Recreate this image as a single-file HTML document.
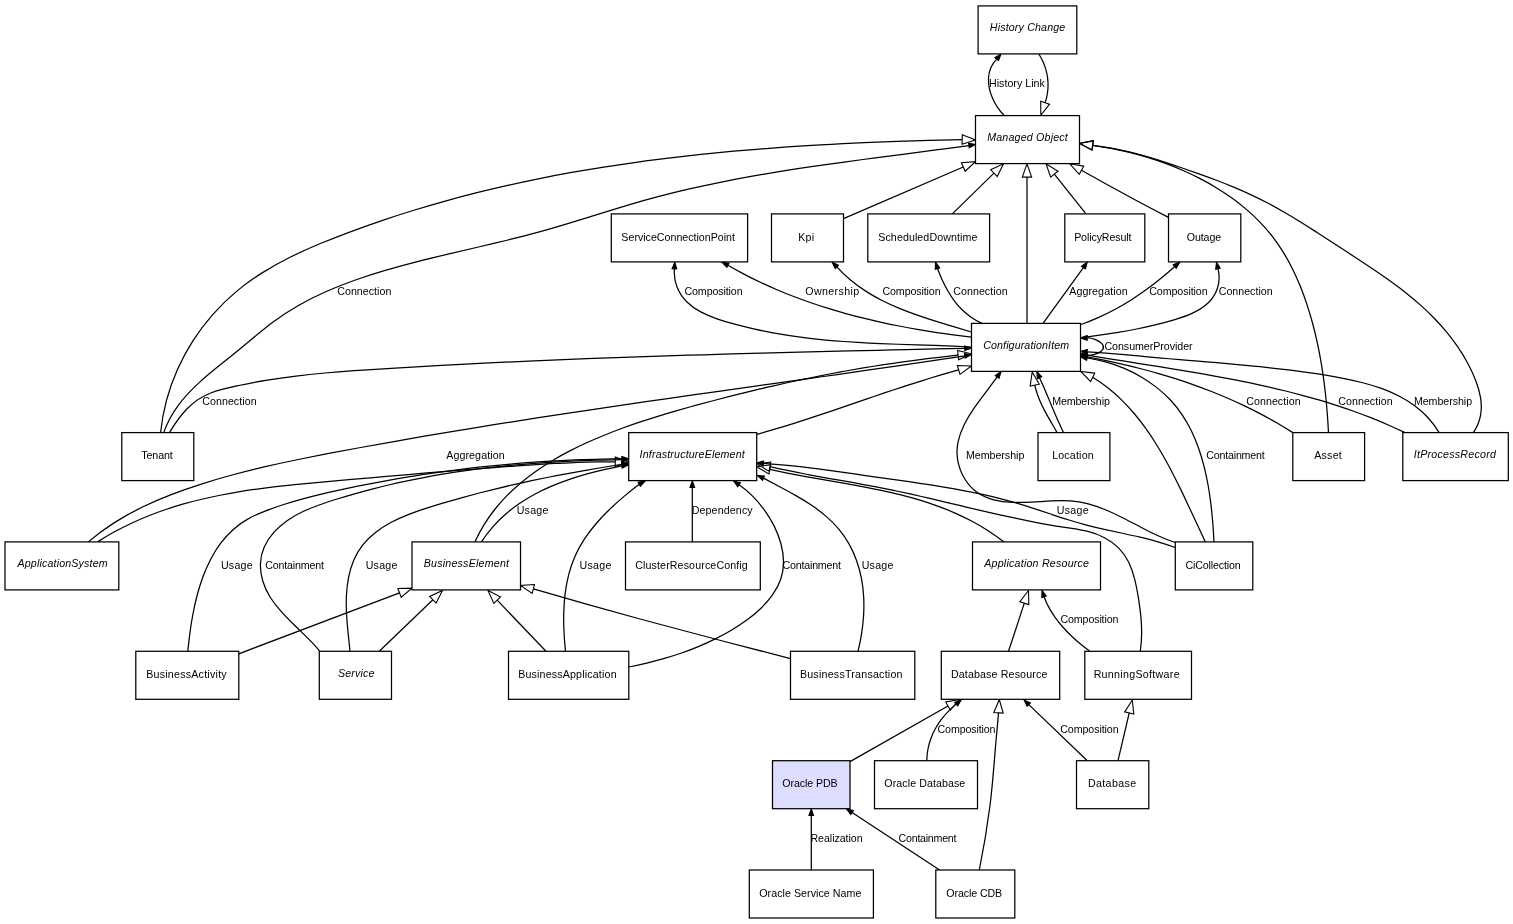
<!DOCTYPE html>
<html lang="en">
<head>
<meta charset="utf-8">
<title>Oracle PDB class model</title>
<style>
html,body{margin:0;padding:0;background:#fff;}
body{width:1513px;height:924px;overflow:hidden;}
svg{display:block;will-change:transform;transform:translateZ(0);}
text{font-family:"Liberation Sans",Arial,Helvetica,sans-serif;font-size:10.67px;fill:#000;text-anchor:start;}
.i{font-style:italic;}
.e{fill:none;stroke:#000;stroke-width:1.25;}
.b{fill:#fff;stroke:#000;stroke-width:1.25;}
.h{fill:#ddddff;stroke:#000;stroke-width:1.25;}
</style>
</head>
<body>
<svg width="1513" height="924" viewBox="0 0 1513 924">
<rect x="0" y="0" width="1513" height="924" fill="#fff"/>
<g id="edges">
<path class="e" d="M1004.20,115.50 C1001.88,113.18 999.68,110.51 997.71,107.60 C995.73,104.68 993.98,101.52 992.55,98.22 C991.11,94.92 989.99,91.49 989.29,88.03 C988.59,84.57 988.30,81.08 988.52,77.68 C988.74,74.27 989.47,70.95 990.80,67.82 C992.14,64.69 994.08,61.76 996.73,59.12"/><polygon points="998.52,60.62 1001.00,54.00 994.94,57.63" fill="#000" stroke="#000" stroke-width="1.1"/>
<path class="e" d="M1038.80,54.00 C1040.36,56.39 1041.73,58.88 1042.90,61.46 C1044.08,64.04 1045.06,66.70 1045.84,69.42 C1046.62,72.14 1047.20,74.90 1047.57,77.70 C1047.94,80.49 1048.10,83.30 1048.05,86.11 C1048.00,88.93 1047.73,91.73 1047.24,94.50 C1046.76,97.27 1046.05,100.01 1045.11,102.69"/><polygon points="1040.69,101.18 1040.80,115.30 1049.53,104.19" fill="none" stroke="#000" stroke-width="1.1"/>
<path class="e" d="M160.60,432.60 C161.66,421.78 163.65,411.02 166.48,400.46 C169.32,389.91 173.00,379.55 177.45,369.53 C181.91,359.51 187.13,349.83 193.03,340.62 C198.94,331.42 205.53,322.70 212.72,314.56 C219.91,306.41 227.70,298.84 235.97,291.89 C244.24,284.94 253.00,278.64 262.14,272.88 C271.27,267.12 280.78,261.88 290.53,257.04 C300.28,252.19 310.27,247.74 320.39,243.53 C330.51,239.33 340.75,235.36 351.00,231.54 C361.26,227.72 371.56,224.06 381.89,220.55 C392.23,217.04 402.61,213.69 413.02,210.48 C423.43,207.28 433.88,204.22 444.36,201.29 C454.85,198.37 465.36,195.59 475.91,192.94 C486.46,190.29 497.04,187.78 507.65,185.39 C518.25,182.99 528.89,180.73 539.55,178.58 C550.21,176.44 560.90,174.41 571.60,172.49 C582.31,170.57 593.04,168.77 603.80,167.07 C614.55,165.37 625.32,163.77 636.11,162.27 C646.90,160.77 657.70,159.37 668.52,158.06 C679.34,156.75 690.18,155.53 701.02,154.39 C711.87,153.25 722.73,152.20 733.60,151.22 C744.46,150.24 755.34,149.34 766.22,148.51 C777.10,147.68 787.99,146.92 798.88,146.22 C809.77,145.52 820.67,144.88 831.57,144.30 C842.46,143.71 853.36,143.19 864.25,142.71 C875.15,142.23 886.04,141.80 896.93,141.41 C907.82,141.02 918.70,140.67 929.57,140.36 C940.45,140.05 951.32,139.77 962.18,139.52"/><polygon points="962.04,144.19 975.50,139.90 962.31,134.85" fill="none" stroke="#000" stroke-width="1.1"/>
<path class="e" d="M163.70,432.60 C167.25,422.36 172.33,413.31 178.46,405.07 C184.58,396.82 191.75,389.38 199.45,382.35 C207.16,375.31 215.41,368.69 223.71,362.09 C232.00,355.49 240.24,348.81 248.31,342.03 C256.38,335.26 264.40,328.51 272.74,322.28 C281.09,316.05 289.82,310.40 298.86,305.27 C307.91,300.13 317.26,295.50 326.82,291.28 C336.39,287.06 346.17,283.25 356.07,279.76 C365.98,276.26 376.01,273.08 386.07,270.12 C396.14,267.15 406.26,264.41 416.40,261.81 C426.54,259.21 436.72,256.75 446.90,254.35 C457.09,251.95 467.29,249.60 477.48,247.24 C487.67,244.88 497.86,242.49 508.02,240.00 C518.18,237.51 528.32,234.92 538.41,232.14 C548.50,229.37 558.56,226.40 568.59,223.36 C578.62,220.31 588.63,217.19 598.65,214.08 C608.67,210.97 618.70,207.88 628.75,204.91 C638.80,201.95 648.88,199.11 659.01,196.46 C669.13,193.81 679.29,191.32 689.49,188.98 C699.69,186.63 709.91,184.43 720.17,182.36 C730.43,180.28 740.71,178.32 751.01,176.47 C761.32,174.62 771.65,172.87 781.99,171.20 C792.34,169.54 802.70,167.95 813.07,166.42 C823.45,164.90 833.83,163.43 844.22,162.01 C854.61,160.59 865.01,159.20 875.41,157.84 C885.81,156.48 896.21,155.13 906.61,153.79 C917.01,152.44 927.40,151.10 937.78,149.73 C948.16,148.36 958.54,146.97 968.90,145.54"/><polygon points="969.23,147.85 975.50,144.60 968.57,143.24" fill="#000" stroke="#000" stroke-width="1.1"/>
<path class="e" d="M169.50,432.60 C174.47,424.19 180.26,415.80 187.09,408.77 C193.92,401.74 201.88,396.32 210.83,392.98 C219.78,389.65 229.34,387.59 238.78,385.51 C248.22,383.44 257.72,381.64 267.26,380.08 C276.80,378.51 286.39,377.18 296.01,376.02 C305.63,374.85 315.28,373.87 324.95,373.00 C334.62,372.13 344.32,371.39 354.02,370.71 C363.72,370.02 373.43,369.41 383.13,368.80 C392.84,368.20 402.54,367.61 412.25,367.05 C421.95,366.48 431.65,365.94 441.35,365.41 C451.05,364.88 460.75,364.37 470.45,363.88 C480.14,363.39 489.84,362.91 499.53,362.45 C509.23,361.99 518.92,361.55 528.61,361.12 C538.31,360.69 548.00,360.28 557.69,359.88 C567.38,359.48 577.07,359.09 586.76,358.72 C596.45,358.34 606.14,357.98 615.83,357.63 C625.52,357.28 635.21,356.95 644.89,356.62 C654.58,356.29 664.27,355.98 673.96,355.67 C683.65,355.36 693.33,355.07 703.02,354.78 C712.71,354.49 722.40,354.21 732.09,353.94 C741.77,353.66 751.46,353.40 761.15,353.14 C770.84,352.88 780.53,352.63 790.22,352.38 C799.91,352.13 809.60,351.89 819.29,351.66 C828.98,351.42 838.67,351.18 848.36,350.95 C858.06,350.72 867.75,350.50 877.45,350.27 C887.14,350.05 896.84,349.83 906.53,349.60 C916.23,349.38 925.93,349.16 935.63,348.94 C945.33,348.72 955.03,348.50 964.73,348.28"/><polygon points="964.79,350.61 971.40,348.10 964.67,345.95" fill="#000" stroke="#000" stroke-width="1.1"/>
<path class="e" d="M1328.50,432.60 C1328.18,426.46 1327.80,420.28 1327.32,414.09 C1326.85,407.90 1326.29,401.69 1325.63,395.48 C1324.97,389.26 1324.21,383.04 1323.34,376.82 C1322.47,370.61 1321.48,364.39 1320.36,358.20 C1319.25,352.00 1318.00,345.82 1316.62,339.66 C1315.23,333.50 1313.71,327.37 1312.02,321.28 C1310.34,315.19 1308.50,309.13 1306.49,303.13 C1304.48,297.13 1302.29,291.19 1299.91,285.36 C1297.53,279.52 1294.95,273.79 1292.15,268.19 C1289.34,262.60 1286.32,257.14 1283.06,251.87 C1279.79,246.59 1276.28,241.49 1272.50,236.61 C1268.72,231.73 1264.69,227.06 1260.41,222.61 C1256.14,218.15 1251.64,213.90 1246.94,209.85 C1242.25,205.80 1237.35,201.95 1232.28,198.29 C1227.22,194.64 1221.99,191.18 1216.62,187.91 C1211.26,184.64 1205.76,181.56 1200.16,178.66 C1194.56,175.76 1188.85,173.05 1183.08,170.51 C1177.31,167.97 1171.46,165.60 1165.56,163.41 C1159.65,161.22 1153.69,159.21 1147.68,157.36 C1141.67,155.51 1135.61,153.84 1129.52,152.33 C1123.43,150.82 1117.30,149.48 1111.16,148.30 C1105.01,147.12 1098.85,146.11 1092.67,145.26"/><polygon points="1093.39,140.64 1079.50,143.20 1091.95,149.87" fill="none" stroke="#000" stroke-width="1.1"/>
<path class="e" d="M1473.30,432.60 C1477.17,427.04 1479.46,421.28 1480.54,415.41 C1481.63,409.55 1481.50,403.59 1480.54,397.64 C1479.58,391.70 1477.78,385.77 1475.51,379.97 C1473.25,374.18 1470.56,368.53 1467.62,363.07 C1464.68,357.61 1461.45,352.33 1457.97,347.22 C1454.50,342.10 1450.78,337.16 1446.85,332.39 C1442.92,327.61 1438.78,323.00 1434.48,318.54 C1430.18,314.09 1425.71,309.80 1421.11,305.65 C1416.52,301.51 1411.79,297.52 1406.98,293.68 C1402.17,289.84 1397.27,286.14 1392.31,282.53 C1387.34,278.93 1382.31,275.42 1377.23,271.97 C1372.16,268.52 1367.04,265.13 1361.90,261.74 C1356.76,258.35 1351.60,254.97 1346.43,251.59 C1341.26,248.21 1336.08,244.83 1330.91,241.46 C1325.73,238.08 1320.55,234.71 1315.35,231.37 C1310.16,228.03 1304.94,224.73 1299.69,221.49 C1294.44,218.26 1289.16,215.08 1283.83,212.00 C1278.50,208.92 1273.12,205.93 1267.68,203.06 C1262.24,200.20 1256.73,197.46 1251.15,194.85 C1245.58,192.24 1239.94,189.76 1234.25,187.38 C1228.56,184.99 1222.83,182.71 1217.06,180.50 C1211.29,178.30 1205.48,176.17 1199.66,174.09 C1193.84,172.01 1188.00,169.99 1182.16,167.99 C1176.32,165.99 1170.47,164.02 1164.60,162.13 C1158.74,160.24 1152.85,158.43 1146.94,156.72 C1141.03,155.01 1135.09,153.42 1129.11,151.98 C1123.13,150.54 1117.12,149.25 1111.05,148.15 C1104.97,147.05 1098.85,146.14 1092.67,145.46"/><polygon points="1093.39,140.84 1079.50,143.40 1091.95,150.07" fill="none" stroke="#000" stroke-width="1.1"/>
<path class="e" d="M843.50,218.60 L963.26,166.98"/><polygon points="965.11,171.27 975.50,161.70 961.41,162.69" fill="none" stroke="#000" stroke-width="1.1"/>
<path class="e" d="M952.30,213.90 L993.97,173.12"/><polygon points="997.24,176.46 1003.50,163.80 990.71,169.78" fill="none" stroke="#000" stroke-width="1.1"/>
<path class="e" d="M1027.00,323.40 L1027.00,177.13"/><polygon points="1031.67,177.13 1027.00,163.80 1022.33,177.13" fill="none" stroke="#000" stroke-width="1.1"/>
<path class="e" d="M1086.00,213.90 L1054.32,174.22"/><polygon points="1057.97,171.30 1046.00,163.80 1050.67,177.13" fill="none" stroke="#000" stroke-width="1.1"/>
<path class="e" d="M1168.50,217.40 C1156.92,211.52 1145.42,205.49 1134.00,199.30 C1116.41,189.77 1098.89,180.08 1081.47,170.25"/><polygon points="1083.73,166.16 1069.80,163.80 1079.21,174.34" fill="none" stroke="#000" stroke-width="1.1"/>
<path class="e" d="M971.40,347.00 C965.27,346.68 959.15,346.41 953.03,346.16 C946.92,345.91 940.82,345.69 934.73,345.48 C928.64,345.26 922.56,345.07 916.49,344.87 C910.42,344.67 904.35,344.47 898.30,344.25 C892.24,344.03 886.19,343.80 880.15,343.54 C874.10,343.28 868.07,342.98 862.03,342.65 C856.00,342.31 849.97,341.94 843.95,341.50 C837.93,341.06 831.90,340.57 825.89,340.01 C819.87,339.44 813.85,338.81 807.84,338.08 C801.82,337.36 795.81,336.56 789.79,335.65 C783.78,334.74 777.77,333.74 771.75,332.62 C765.74,331.50 759.72,330.26 753.70,328.90 C747.68,327.54 741.66,326.05 735.64,324.43 C729.61,322.80 723.54,321.06 717.63,319.04 C711.72,317.03 706.00,314.72 700.75,311.91 C695.49,309.10 690.70,305.79 686.67,301.75 C682.63,297.72 679.32,292.90 677.12,287.33 C674.92,281.76 673.85,275.50 674.41,268.86"/><polygon points="676.74,268.99 674.80,262.20 672.09,268.72" fill="#000" stroke="#000" stroke-width="1.1"/>
<path class="e" d="M971.40,337.20 C965.38,336.47 959.36,335.70 953.34,334.88 C947.32,334.06 941.30,333.19 935.28,332.26 C929.26,331.33 923.24,330.35 917.23,329.31 C911.23,328.27 905.23,327.17 899.24,326.00 C893.25,324.83 887.28,323.59 881.32,322.29 C875.36,320.98 869.42,319.60 863.50,318.14 C857.58,316.69 851.68,315.15 845.81,313.53 C839.94,311.91 834.10,310.21 828.28,308.42 C822.47,306.62 816.68,304.74 810.94,302.77 C805.19,300.79 799.48,298.72 793.80,296.54 C788.13,294.37 782.50,292.10 776.91,289.72 C771.32,287.34 765.77,284.85 760.28,282.25 C754.78,279.65 749.33,276.94 743.94,274.11 C738.55,271.28 733.21,268.33 727.93,265.26"/><polygon points="729.00,263.19 722.00,262.20 726.86,267.33" fill="#000" stroke="#000" stroke-width="1.1"/>
<path class="e" d="M971.40,332.00 C965.56,330.22 959.61,328.47 953.60,326.68 C947.59,324.90 941.52,323.08 935.45,321.18 C929.37,319.29 923.30,317.31 917.26,315.19 C911.23,313.08 905.25,310.83 899.37,308.39 C893.48,305.96 887.70,303.33 882.06,300.47 C876.43,297.61 870.95,294.51 865.67,291.12 C860.39,287.73 855.32,284.04 850.50,280.02 C845.69,275.99 841.13,271.62 836.88,266.85"/><polygon points="838.50,265.19 832.10,262.20 835.25,268.52" fill="#000" stroke="#000" stroke-width="1.1"/>
<path class="e" d="M982.00,323.40 C978.06,321.67 974.44,319.61 971.09,317.29 C967.75,314.96 964.69,312.37 961.87,309.56 C959.05,306.75 956.47,303.72 954.10,300.52 C951.74,297.33 949.58,293.96 947.59,290.48 C945.61,286.99 943.80,283.39 942.12,279.72 C940.45,276.06 938.91,272.32 937.48,268.57"/><polygon points="939.70,267.88 935.50,262.20 935.25,269.26" fill="#000" stroke="#000" stroke-width="1.1"/>
<path class="e" d="M1043.00,323.40 L1083.39,267.60"/><polygon points="1085.28,268.97 1087.30,262.20 1081.50,266.24" fill="#000" stroke="#000" stroke-width="1.1"/>
<path class="e" d="M1081.00,324.50 C1086.82,322.42 1092.54,320.12 1098.16,317.61 C1103.79,315.10 1109.31,312.37 1114.74,309.46 C1120.17,306.55 1125.49,303.45 1130.71,300.17 C1135.93,296.89 1141.05,293.45 1146.05,289.84 C1151.06,286.24 1155.95,282.49 1160.73,278.60 C1165.51,274.71 1170.18,270.68 1174.73,266.54"/><polygon points="1176.25,268.31 1179.80,262.20 1173.22,264.77" fill="#000" stroke="#000" stroke-width="1.1"/>
<path class="e" d="M1080.50,337.90 C1086.96,336.98 1093.31,336.09 1099.59,335.18 C1105.87,334.26 1112.07,333.32 1118.25,332.31 C1124.42,331.30 1130.57,330.21 1136.71,329.01 C1142.86,327.80 1149.02,326.47 1155.22,324.97 C1161.42,323.47 1167.67,321.80 1173.99,319.91 C1180.31,318.01 1186.65,315.87 1192.49,313.15 C1198.34,310.44 1203.69,307.17 1208.04,303.01 C1212.39,298.86 1215.74,293.70 1217.58,287.70 C1219.41,281.70 1219.73,275.04 1218.00,268.70"/><polygon points="1220.27,268.18 1216.50,262.20 1215.73,269.22" fill="#000" stroke="#000" stroke-width="1.1"/>
<path class="e" d="M1080.50,355.60 C1081.84,355.93 1084.48,355.95 1087.51,355.62 C1090.53,355.30 1093.94,354.62 1096.82,353.56 C1099.70,352.49 1102.02,351.00 1102.98,349.19 C1103.95,347.38 1103.46,345.40 1101.87,343.66 C1100.29,341.91 1097.73,340.37 1095.01,339.32 C1092.29,338.26 1089.41,337.69 1087.17,337.90"/><polygon points="1087.17,335.57 1080.50,337.90 1087.17,340.23" fill="#000" stroke="#000" stroke-width="1.1"/>
<path class="e" d="M1439.20,432.60 C1435.86,427.03 1432.03,422.01 1427.81,417.48 C1423.58,412.94 1418.95,408.90 1414.02,405.30 C1409.09,401.69 1403.85,398.53 1398.40,395.74 C1392.95,392.96 1387.28,390.56 1381.48,388.46 C1375.68,386.37 1369.73,384.57 1363.71,382.99 C1357.70,381.41 1351.61,380.04 1345.52,378.81 C1339.42,377.57 1333.30,376.47 1327.18,375.46 C1321.05,374.45 1314.92,373.51 1308.79,372.64 C1302.66,371.76 1296.52,370.94 1290.39,370.18 C1284.25,369.41 1278.11,368.69 1271.97,368.01 C1265.82,367.34 1259.68,366.70 1253.53,366.09 C1247.38,365.49 1241.23,364.91 1235.08,364.35 C1228.93,363.80 1222.77,363.26 1216.62,362.74 C1210.46,362.21 1204.31,361.70 1198.15,361.19 C1191.99,360.67 1185.83,360.16 1179.67,359.64 C1173.51,359.12 1167.34,358.59 1161.18,358.04 C1155.02,357.50 1148.85,356.92 1142.69,356.34 C1136.52,355.76 1130.35,355.17 1124.19,354.60 C1118.02,354.04 1111.85,353.50 1105.68,353.01 C1099.51,352.53 1093.33,352.10 1087.16,351.76"/><polygon points="1087.28,349.43 1080.50,351.40 1087.04,354.08" fill="#000" stroke="#000" stroke-width="1.1"/>
<path class="e" d="M1405.00,432.60 C1399.46,429.94 1393.89,427.39 1388.29,424.95 C1382.69,422.51 1377.06,420.17 1371.39,417.93 C1365.73,415.69 1360.04,413.55 1354.32,411.50 C1348.61,409.45 1342.86,407.49 1337.09,405.61 C1331.32,403.73 1325.53,401.94 1319.72,400.22 C1313.90,398.50 1308.07,396.85 1302.21,395.28 C1296.36,393.70 1290.48,392.19 1284.59,390.75 C1278.70,389.30 1272.79,387.91 1266.86,386.58 C1260.94,385.25 1255.00,383.97 1249.05,382.73 C1243.10,381.50 1237.14,380.31 1231.16,379.16 C1225.19,378.00 1219.21,376.89 1213.21,375.81 C1207.22,374.73 1201.22,373.68 1195.22,372.65 C1189.22,371.62 1183.21,370.62 1177.19,369.63 C1171.18,368.64 1165.17,367.66 1159.15,366.70 C1153.14,365.74 1147.12,364.78 1141.10,363.82 C1135.09,362.87 1129.08,361.92 1123.07,360.95 C1117.06,359.99 1111.06,359.03 1105.06,358.05 C1099.06,357.06 1093.07,356.07 1087.09,355.05"/><polygon points="1087.45,352.75 1080.50,354.00 1086.72,357.35" fill="#000" stroke="#000" stroke-width="1.1"/>
<path class="e" d="M1292.80,432.60 C1287.61,429.29 1282.35,426.10 1277.04,423.02 C1271.73,419.94 1266.36,416.97 1260.94,414.12 C1255.52,411.26 1250.04,408.51 1244.52,405.87 C1239.00,403.23 1233.43,400.69 1227.81,398.26 C1222.20,395.82 1216.54,393.49 1210.85,391.25 C1205.15,389.01 1199.41,386.87 1193.64,384.81 C1187.87,382.76 1182.07,380.81 1176.23,378.93 C1170.40,377.06 1164.53,375.28 1158.64,373.58 C1152.75,371.88 1146.83,370.27 1140.90,368.73 C1134.96,367.19 1129.00,365.73 1123.03,364.35 C1117.05,362.97 1111.06,361.66 1105.06,360.42 C1099.06,359.19 1093.04,358.02 1087.02,356.92"/><polygon points="1087.51,354.64 1080.50,355.50 1086.52,359.19" fill="#000" stroke="#000" stroke-width="1.1"/>
<path class="e" d="M1214.00,541.90 C1213.69,535.90 1213.31,529.76 1212.82,523.52 C1212.32,517.29 1211.72,510.96 1210.96,504.60 C1210.19,498.25 1209.27,491.86 1208.15,485.51 C1207.02,479.15 1205.70,472.83 1204.12,466.60 C1202.55,460.36 1200.72,454.22 1198.61,448.23 C1196.49,442.24 1194.08,436.40 1191.33,430.77 C1188.58,425.14 1185.49,419.73 1182.02,414.59 C1178.55,409.44 1174.68,404.58 1170.42,400.03 C1166.15,395.49 1161.50,391.26 1156.55,387.37 C1151.59,383.48 1146.32,379.92 1140.83,376.72 C1135.33,373.52 1129.60,370.67 1123.71,368.20 C1117.82,365.73 1111.77,363.63 1105.64,361.92 C1099.50,360.22 1093.29,358.90 1087.06,358.00"/><polygon points="1087.48,355.71 1080.50,356.80 1086.64,360.29" fill="#000" stroke="#000" stroke-width="1.1"/>
<path class="e" d="M1205.40,541.90 C1202.82,536.54 1200.27,531.10 1197.70,525.59 C1195.14,520.09 1192.57,514.52 1189.97,508.94 C1187.37,503.35 1184.73,497.74 1182.04,492.14 C1179.35,486.55 1176.59,480.96 1173.76,475.41 C1170.92,469.87 1168.00,464.37 1164.96,458.96 C1161.93,453.54 1158.78,448.20 1155.50,442.97 C1152.22,437.74 1148.80,432.63 1145.21,427.66 C1141.63,422.70 1137.88,417.88 1133.94,413.24 C1130.00,408.60 1125.87,404.15 1121.52,399.90 C1117.18,395.66 1112.62,391.64 1107.81,387.86 C1103.01,384.09 1097.96,380.56 1092.64,377.32"/><polygon points="1094.72,373.14 1080.70,371.40 1090.57,381.50" fill="none" stroke="#000" stroke-width="1.1"/>
<path class="e" d="M1175.30,542.50 C1169.54,540.69 1163.80,538.36 1158.07,535.75 C1152.34,533.13 1146.62,530.22 1140.87,527.22 C1135.13,524.23 1129.38,521.15 1123.58,518.20 C1117.79,515.26 1111.97,512.45 1106.08,509.98 C1100.20,507.51 1094.26,505.39 1088.25,503.83 C1082.24,502.26 1076.14,501.33 1069.97,500.95 C1063.80,500.57 1057.55,500.69 1051.23,500.98 C1044.92,501.28 1038.55,501.75 1032.13,502.08 C1025.71,502.42 1019.24,502.62 1012.76,502.36 C1006.27,502.10 999.83,501.38 993.76,499.83 C987.69,498.28 982.00,495.90 977.02,492.33 C972.05,488.75 967.80,483.93 964.52,478.45 C961.23,472.97 958.90,466.84 957.77,460.63 C956.65,454.43 956.80,448.24 958.01,442.22 C959.22,436.20 961.44,430.30 964.30,424.55 C967.16,418.79 970.65,413.18 974.41,407.72 C978.17,402.26 982.19,396.96 986.10,391.82 C990.01,386.69 993.81,381.73 997.12,376.95"/><polygon points="998.99,378.34 1001.10,371.60 995.25,375.56" fill="#000" stroke="#000" stroke-width="1.1"/>
<path class="e" d="M1057.10,432.60 C1055.68,430.04 1054.21,427.50 1052.73,424.96 C1051.25,422.43 1049.76,419.89 1048.31,417.35 C1046.85,414.80 1045.43,412.23 1044.08,409.64 C1042.74,407.04 1041.46,404.41 1040.30,401.74 C1039.14,399.06 1038.08,396.34 1037.15,393.57 C1036.21,390.79 1035.41,387.97 1034.76,385.08"/><polygon points="1039.34,384.19 1032.20,372.00 1030.17,385.98" fill="none" stroke="#000" stroke-width="1.1"/>
<path class="e" d="M1063.50,432.60 C1062.06,429.60 1060.66,426.57 1059.30,423.54 C1057.93,420.50 1056.60,417.45 1055.29,414.39 C1053.98,411.33 1052.68,408.27 1051.39,405.20 C1050.10,402.13 1048.82,399.06 1047.52,395.99 C1046.23,392.92 1044.92,389.86 1043.59,386.81 C1042.26,383.76 1040.91,380.72 1039.52,377.69"/><polygon points="1041.65,376.74 1036.80,371.60 1037.39,378.64" fill="#000" stroke="#000" stroke-width="1.1"/>
<path class="e" d="M757.10,434.30 C763.28,432.58 769.45,430.80 775.59,428.96 C781.74,427.13 787.86,425.24 793.98,423.30 C800.09,421.37 806.19,419.40 812.28,417.39 C818.37,415.39 824.45,413.35 830.53,411.30 C836.61,409.25 842.68,407.18 848.74,405.11 C854.81,403.03 860.88,400.95 866.95,398.88 C873.02,396.81 879.09,394.75 885.17,392.70 C891.25,390.66 897.33,388.64 903.43,386.65 C909.52,384.65 915.63,382.69 921.74,380.78 C927.86,378.86 934.00,376.99 940.15,375.18 C946.30,373.36 952.47,371.61 958.66,369.92"/><polygon points="960.03,374.38 971.40,366.00 957.29,365.46" fill="none" stroke="#000" stroke-width="1.1"/>
<path class="e" d="M88.30,541.90 C96.63,534.77 105.36,528.39 114.40,522.63 C123.45,516.86 132.81,511.71 142.41,507.05 C152.01,502.38 161.84,498.20 171.82,494.37 C181.80,490.54 191.92,487.06 202.12,483.81 C212.32,480.56 222.61,477.56 232.97,474.76 C243.33,471.96 253.76,469.37 264.23,466.92 C274.71,464.48 285.24,462.19 295.79,460.00 C306.35,457.81 316.93,455.73 327.52,453.71 C338.12,451.68 348.72,449.70 359.32,447.76 C369.92,445.81 380.52,443.90 391.12,442.02 C401.73,440.14 412.33,438.29 422.94,436.48 C433.55,434.66 444.15,432.88 454.76,431.12 C465.37,429.36 475.98,427.62 486.60,425.91 C497.21,424.21 507.82,422.52 518.44,420.86 C529.05,419.19 539.67,417.55 550.29,415.93 C560.90,414.30 571.52,412.70 582.14,411.11 C592.76,409.52 603.38,407.95 614.00,406.39 C624.63,404.83 635.25,403.28 645.87,401.74 C656.50,400.20 667.12,398.67 677.75,397.15 C688.38,395.63 699.00,394.12 709.63,392.61 C720.26,391.10 730.89,389.60 741.52,388.10 C752.15,386.60 762.78,385.10 773.41,383.59 C784.04,382.09 794.68,380.59 805.31,379.08 C815.94,377.58 826.58,376.07 837.21,374.55 C847.84,373.03 858.48,371.51 869.12,369.97 C879.75,368.44 890.39,366.90 901.02,365.34 C911.66,363.79 922.30,362.22 932.93,360.64 C943.57,359.06 954.21,357.46 964.85,355.84"/><polygon points="965.28,358.13 971.40,354.60 964.41,353.55" fill="#000" stroke="#000" stroke-width="1.1"/>
<path class="e" d="M474.90,541.90 C477.64,535.86 480.72,530.11 484.10,524.63 C487.48,519.15 491.17,513.95 495.11,509.00 C499.06,504.04 503.27,499.34 507.70,494.88 C512.14,490.41 516.79,486.18 521.64,482.16 C526.48,478.13 531.51,474.33 536.68,470.71 C541.86,467.09 547.19,463.67 552.64,460.42 C558.09,457.17 563.66,454.09 569.33,451.16 C575.00,448.23 580.76,445.45 586.59,442.80 C592.42,440.15 598.32,437.63 604.25,435.21 C610.19,432.80 616.16,430.49 622.17,428.28 C628.18,426.07 634.22,423.95 640.29,421.92 C646.36,419.88 652.46,417.93 658.57,416.04 C664.69,414.15 670.83,412.33 676.98,410.56 C683.13,408.79 689.29,407.08 695.46,405.40 C701.64,403.73 707.82,402.09 713.99,400.48 C720.17,398.87 726.35,397.28 732.53,395.72 C738.72,394.16 744.90,392.63 751.09,391.12 C757.27,389.62 763.47,388.15 769.66,386.71 C775.86,385.27 782.07,383.87 788.28,382.50 C794.50,381.13 800.72,379.80 806.95,378.51 C813.19,377.22 819.43,375.97 825.68,374.76 C831.94,373.55 838.20,372.37 844.47,371.24 C850.74,370.11 857.02,369.01 863.31,367.96 C869.60,366.91 875.89,365.90 882.19,364.92 C888.50,363.95 894.81,363.02 901.13,362.13 C907.44,361.23 913.77,360.38 920.10,359.57 C926.43,358.76 932.76,357.99 939.10,357.26 C945.45,356.53 951.79,355.84 958.14,355.20"/><polygon points="958.63,359.84 971.40,353.80 957.65,350.55" fill="none" stroke="#000" stroke-width="1.1"/>
<path class="e" d="M1175.30,547.50 C1169.56,545.36 1163.75,543.49 1157.89,541.81 C1152.02,540.12 1146.11,538.62 1140.16,537.22 C1134.22,535.82 1128.25,534.52 1122.28,533.24 C1116.30,531.96 1110.32,530.70 1104.36,529.36 C1098.40,528.03 1092.46,526.64 1086.56,525.09 C1080.66,523.54 1074.81,521.83 1068.99,520.01 C1063.17,518.20 1057.38,516.29 1051.59,514.35 C1045.80,512.42 1040.02,510.46 1034.23,508.56 C1028.43,506.66 1022.62,504.82 1016.77,503.11 C1010.92,501.40 1005.04,499.81 999.13,498.33 C993.22,496.84 987.28,495.47 981.32,494.18 C975.36,492.88 969.37,491.68 963.37,490.55 C957.36,489.41 951.34,488.35 945.30,487.34 C939.27,486.33 933.22,485.37 927.17,484.44 C921.11,483.51 915.05,482.62 908.98,481.74 C902.92,480.87 896.85,480.01 890.78,479.14 C884.72,478.28 878.66,477.41 872.60,476.53 C866.55,475.66 860.50,474.77 854.45,473.89 C848.41,473.02 842.36,472.15 836.31,471.31 C830.26,470.46 824.21,469.64 818.16,468.87 C812.11,468.09 806.05,467.35 799.98,466.66 C793.91,465.98 787.84,465.35 781.75,464.79 C775.67,464.23 769.57,463.74 763.46,463.34"/><polygon points="763.61,461.01 756.80,462.90 763.30,465.66" fill="#000" stroke="#000" stroke-width="1.1"/>
<path class="e" d="M1004.00,541.90 C998.80,537.87 993.50,534.13 988.09,530.66 C982.68,527.19 977.17,523.99 971.58,521.03 C965.98,518.06 960.30,515.34 954.53,512.82 C948.77,510.30 942.93,507.99 937.03,505.86 C931.12,503.72 925.15,501.76 919.12,499.95 C913.09,498.15 907.01,496.48 900.89,494.94 C894.77,493.39 888.60,491.96 882.40,490.62 C876.20,489.28 869.97,488.03 863.72,486.83 C857.47,485.63 851.20,484.50 844.92,483.38 C838.64,482.27 832.35,481.18 826.07,480.09 C819.78,479.01 813.50,477.91 807.23,476.79 C800.96,475.66 794.70,474.50 788.47,473.28 C782.25,472.06 776.04,470.77 769.87,469.40"/><polygon points="770.78,464.81 756.80,466.80 768.97,473.98" fill="none" stroke="#000" stroke-width="1.1"/>
<path class="e" d="M1140.30,651.30 C1141.20,645.03 1141.62,639.03 1141.66,633.14 C1141.70,627.25 1141.36,621.47 1140.78,615.64 C1140.19,609.81 1139.36,603.92 1138.39,597.83 C1137.42,591.74 1136.28,585.49 1134.73,579.42 C1133.18,573.35 1131.22,567.45 1128.59,562.08 C1125.96,556.72 1122.61,551.91 1118.53,547.85 C1114.44,543.78 1109.69,540.40 1104.51,537.68 C1099.33,534.96 1093.72,532.93 1087.92,531.47 C1082.12,530.01 1076.11,529.05 1070.08,528.14 C1064.06,527.23 1058.04,526.30 1052.06,525.27 C1046.08,524.25 1040.12,523.16 1034.19,522.02 C1028.26,520.87 1022.34,519.68 1016.45,518.44 C1010.56,517.20 1004.68,515.92 998.82,514.61 C992.95,513.30 987.10,511.95 981.26,510.60 C975.42,509.24 969.59,507.86 963.76,506.48 C957.93,505.10 952.11,503.71 946.28,502.33 C940.46,500.95 934.64,499.58 928.81,498.22 C922.98,496.87 917.15,495.53 911.31,494.22 C905.47,492.92 899.62,491.64 893.76,490.41 C887.89,489.18 882.02,487.99 876.12,486.85 C870.23,485.72 864.32,484.63 858.41,483.56 C852.49,482.50 846.57,481.46 840.64,480.42 C834.72,479.38 828.79,478.34 822.87,477.28 C816.95,476.21 811.03,475.13 805.12,474.00 C799.22,472.88 793.33,471.71 787.45,470.47 C781.58,469.23 775.72,467.92 769.89,466.52"/><polygon points="770.77,461.94 756.80,464.00 769.01,471.11" fill="none" stroke="#000" stroke-width="1.1"/>
<path class="e" d="M858.00,651.30 C859.43,645.59 860.65,639.69 861.60,633.66 C862.56,627.63 863.25,621.48 863.61,615.28 C863.97,609.09 864.00,602.85 863.66,596.64 C863.31,590.43 862.58,584.26 861.40,578.20 C860.23,572.14 858.61,566.20 856.54,560.45 C854.47,554.70 851.95,549.15 848.99,543.90 C846.03,538.64 842.63,533.68 838.80,529.10 C834.97,524.51 830.72,520.29 826.16,516.36 C821.60,512.43 816.72,508.78 811.65,505.35 C806.57,501.91 801.29,498.69 795.92,495.61 C790.56,492.52 785.10,489.57 779.65,486.68 C774.21,483.79 768.79,480.96 763.49,478.12"/><polygon points="764.44,475.99 757.40,475.40 762.54,480.25" fill="#000" stroke="#000" stroke-width="1.1"/>
<path class="e" d="M628.80,667.00 C634.89,665.79 640.89,664.49 646.82,663.07 C652.75,661.65 658.61,660.12 664.40,658.46 C670.18,656.79 675.90,654.99 681.55,653.02 C687.21,651.06 692.80,648.94 698.33,646.63 C703.87,644.33 709.35,641.84 714.77,639.15 C720.20,636.46 725.58,633.57 730.91,630.44 C736.24,627.32 741.49,623.96 746.51,620.32 C751.53,616.67 756.32,612.75 760.73,608.48 C765.14,604.22 769.18,599.62 772.67,594.64 C776.16,589.66 779.06,584.32 780.90,578.75 C782.74,573.18 783.54,567.38 783.49,561.50 C783.44,555.61 782.53,549.65 780.94,543.74 C779.35,537.84 777.08,532.01 774.31,526.39 C771.53,520.77 768.25,515.37 764.64,510.33 C761.04,505.29 757.11,500.63 752.85,496.36 C748.60,492.09 744.01,488.22 739.10,484.78"/><polygon points="740.42,482.86 733.60,481.00 737.78,486.70" fill="#000" stroke="#000" stroke-width="1.1"/>
<path class="e" d="M692.30,541.90 L692.30,487.47"/><polygon points="694.63,487.47 692.30,480.80 689.97,487.47" fill="#000" stroke="#000" stroke-width="1.1"/>
<path class="e" d="M565.50,651.30 C564.84,644.96 564.32,638.51 564.00,632.00 C563.68,625.49 563.58,618.93 563.76,612.39 C563.94,605.85 564.41,599.33 565.24,592.89 C566.07,586.46 567.26,580.11 568.89,573.93 C570.52,567.74 572.58,561.71 575.16,555.91 C577.74,550.11 580.84,544.54 584.35,539.18 C587.85,533.83 591.77,528.69 595.99,523.75 C600.21,518.81 604.73,514.06 609.44,509.50 C614.16,504.94 619.07,500.57 624.06,496.36 C629.06,492.15 634.14,488.11 639.21,484.22"/><polygon points="640.30,486.28 645.10,481.10 638.11,482.16" fill="#000" stroke="#000" stroke-width="1.1"/>
<path class="e" d="M97.60,541.90 C103.02,538.41 108.51,535.14 114.07,532.07 C119.63,529.00 125.26,526.14 130.94,523.46 C136.63,520.79 142.37,518.29 148.17,515.97 C153.97,513.65 159.83,511.50 165.73,509.51 C171.63,507.51 177.58,505.67 183.58,503.96 C189.57,502.26 195.61,500.69 201.68,499.25 C207.76,497.80 213.87,496.47 220.01,495.25 C226.15,494.03 232.33,492.92 238.52,491.89 C244.72,490.86 250.95,489.93 257.19,489.06 C263.43,488.19 269.70,487.40 275.98,486.66 C282.25,485.92 288.54,485.24 294.84,484.59 C301.14,483.95 307.45,483.34 313.76,482.76 C320.07,482.18 326.38,481.62 332.68,481.07 C338.99,480.52 345.30,479.97 351.59,479.42 C357.89,478.87 364.18,478.32 370.47,477.77 C376.76,477.23 383.04,476.68 389.32,476.14 C395.60,475.60 401.87,475.06 408.15,474.53 C414.42,473.99 420.69,473.46 426.96,472.93 C433.23,472.41 439.49,471.89 445.76,471.37 C452.02,470.86 458.29,470.35 464.55,469.84 C470.82,469.34 477.08,468.85 483.35,468.36 C489.62,467.87 495.88,467.39 502.15,466.93 C508.42,466.46 514.69,466.00 520.96,465.57 C527.23,465.13 533.51,464.72 539.79,464.34 C546.06,463.95 552.34,463.60 558.62,463.29 C564.91,462.98 571.19,462.70 577.48,462.48 C583.77,462.26 590.07,462.08 596.36,461.96 C602.66,461.85 608.96,461.79 615.27,461.80"/><polygon points="615.20,466.47 628.60,462.00 615.34,457.13" fill="none" stroke="#000" stroke-width="1.1"/>
<path class="e" d="M187.80,651.30 C188.38,645.42 189.06,639.33 189.89,633.12 C190.72,626.91 191.70,620.59 192.89,614.25 C194.07,607.91 195.47,601.55 197.13,595.26 C198.79,588.97 200.71,582.76 202.95,576.71 C205.20,570.67 207.76,564.79 210.70,559.17 C213.65,553.56 216.97,548.21 220.72,543.22 C224.47,538.22 228.67,533.58 233.32,529.42 C237.97,525.26 243.08,521.62 248.58,518.61 C254.07,515.59 259.91,513.12 265.81,510.83 C271.71,508.54 277.68,506.44 283.71,504.49 C289.74,502.54 295.82,500.75 301.95,499.07 C308.07,497.40 314.23,495.84 320.42,494.36 C326.60,492.89 332.81,491.49 339.02,490.14 C345.24,488.79 351.46,487.48 357.68,486.22 C363.91,484.96 370.14,483.74 376.37,482.56 C382.61,481.39 388.85,480.25 395.10,479.17 C401.35,478.08 407.60,477.03 413.86,476.03 C420.11,475.03 426.38,474.07 432.64,473.16 C438.91,472.24 445.18,471.37 451.46,470.54 C457.74,469.72 464.02,468.93 470.30,468.19 C476.59,467.45 482.88,466.76 489.18,466.10 C495.47,465.45 501.77,464.84 508.07,464.28 C514.38,463.71 520.68,463.19 526.99,462.71 C533.30,462.23 539.62,461.80 545.94,461.40 C552.26,461.01 558.58,460.66 564.91,460.36 C571.23,460.05 577.56,459.79 583.89,459.58 C590.23,459.36 596.56,459.19 602.90,459.06 C609.24,458.92 615.59,458.84 621.93,458.79"/><polygon points="621.96,461.12 628.60,458.70 621.90,456.46" fill="#000" stroke="#000" stroke-width="1.1"/>
<path class="e" d="M319.80,651.30 C316.49,647.07 312.56,642.87 308.32,638.63 C304.08,634.39 299.54,630.12 295.01,625.73 C290.48,621.34 285.95,616.84 281.74,612.16 C277.54,607.47 273.65,602.60 270.39,597.46 C267.14,592.33 264.53,586.90 262.82,581.24 C261.11,575.58 260.26,569.74 260.43,563.98 C260.60,558.23 261.80,552.55 264.12,547.23 C266.44,541.90 269.81,536.90 273.83,532.39 C277.85,527.87 282.50,523.85 287.43,520.40 C292.35,516.96 297.60,514.05 303.05,511.50 C308.50,508.94 314.15,506.74 319.88,504.72 C325.61,502.69 331.40,500.83 337.19,499.02 C342.99,497.21 348.79,495.48 354.61,493.82 C360.42,492.16 366.25,490.58 372.09,489.07 C377.93,487.56 383.78,486.12 389.64,484.75 C395.50,483.38 401.37,482.07 407.25,480.84 C413.13,479.60 419.02,478.43 424.92,477.32 C430.82,476.21 436.73,475.17 442.64,474.18 C448.56,473.20 454.48,472.27 460.41,471.41 C466.35,470.54 472.29,469.73 478.23,468.97 C484.18,468.21 490.13,467.51 496.09,466.86 C502.05,466.21 508.02,465.61 513.99,465.05 C519.96,464.50 525.94,464.00 531.92,463.54 C537.90,463.08 543.89,462.67 549.88,462.30 C555.87,461.93 561.87,461.60 567.86,461.31 C573.86,461.02 579.87,460.77 585.87,460.56 C591.88,460.34 597.88,460.17 603.89,460.02 C609.90,459.88 615.92,459.77 621.93,459.69"/><polygon points="621.96,462.02 628.60,459.60 621.90,457.36" fill="#000" stroke="#000" stroke-width="1.1"/>
<path class="e" d="M350.00,651.30 C349.47,645.66 348.80,639.75 348.17,633.68 C347.55,627.60 346.96,621.37 346.60,615.07 C346.25,608.77 346.12,602.40 346.41,596.08 C346.69,589.75 347.38,583.47 348.58,577.40 C349.77,571.34 351.49,565.49 353.83,560.02 C356.16,554.55 359.16,549.48 362.81,544.90 C366.47,540.32 370.75,536.21 375.47,532.51 C380.19,528.80 385.35,525.51 390.77,522.57 C396.19,519.64 401.86,517.07 407.62,514.80 C413.37,512.52 419.24,510.52 425.13,508.63 C431.02,506.73 436.92,504.92 442.82,503.15 C448.72,501.39 454.63,499.69 460.53,498.04 C466.44,496.39 472.35,494.80 478.27,493.25 C484.19,491.71 490.11,490.22 496.04,488.78 C501.97,487.33 507.91,485.94 513.85,484.59 C519.79,483.24 525.75,481.94 531.71,480.67 C537.66,479.41 543.63,478.18 549.61,477.00 C555.59,475.81 561.57,474.67 567.57,473.55 C573.57,472.44 579.58,471.36 585.60,470.31 C591.62,469.26 597.65,468.24 603.70,467.25 C609.74,466.26 615.80,465.30 621.87,464.36"/><polygon points="622.14,466.67 628.50,463.60 621.61,462.04" fill="#000" stroke="#000" stroke-width="1.1"/>
<path class="e" d="M481.40,541.90 C484.84,536.59 488.58,531.65 492.61,527.05 C496.63,522.45 500.93,518.19 505.47,514.23 C510.01,510.28 514.78,506.63 519.75,503.26 C524.72,499.89 529.88,496.79 535.20,493.95 C540.53,491.10 546.00,488.50 551.60,486.11 C557.20,483.73 562.91,481.55 568.71,479.57 C574.50,477.58 580.37,475.78 586.28,474.13 C592.19,472.48 598.14,470.98 604.09,469.61 C610.04,468.23 615.99,466.98 621.89,465.82"/><polygon points="622.22,468.13 628.50,464.90 621.57,463.51" fill="#000" stroke="#000" stroke-width="1.1"/>
<path class="e" d="M238.80,653.80 L399.53,592.92"/><polygon points="401.19,597.29 412.00,588.20 397.88,588.55" fill="none" stroke="#000" stroke-width="1.1"/>
<path class="e" d="M379.30,651.30 L432.89,599.74"/><polygon points="436.13,603.11 442.50,590.50 429.66,596.38" fill="none" stroke="#000" stroke-width="1.1"/>
<path class="e" d="M546.00,651.30 L497.20,600.15"/><polygon points="500.58,596.92 488.00,590.50 493.82,603.37" fill="none" stroke="#000" stroke-width="1.1"/>
<path class="e" d="M790.50,658.60 C740.24,645.76 690.07,632.56 640.00,619.00 C604.36,609.35 568.81,599.33 533.37,588.97"/><polygon points="534.59,584.46 520.50,585.50 532.16,593.47" fill="none" stroke="#000" stroke-width="1.1"/>
<path class="e" d="M1008.50,651.30 L1024.33,603.16"/><polygon points="1028.77,604.62 1028.50,590.50 1019.90,601.70" fill="none" stroke="#000" stroke-width="1.1"/>
<path class="e" d="M1089.80,651.30 C1086.68,649.03 1083.56,646.62 1080.49,644.08 C1077.42,641.54 1074.40,638.86 1071.47,636.05 C1068.55,633.25 1065.72,630.32 1063.03,627.27 C1060.35,624.22 1057.80,621.05 1055.44,617.78 C1053.08,614.50 1050.90,611.11 1048.97,607.62 C1047.04,604.12 1045.36,600.50 1044.05,596.75"/><polygon points="1046.27,596.03 1042.00,590.40 1041.83,597.46" fill="#000" stroke="#000" stroke-width="1.1"/>
<path class="e" d="M850.00,761.60 L948.00,706.07"/><polygon points="950.30,710.13 959.60,699.50 945.70,702.01" fill="none" stroke="#000" stroke-width="1.1"/>
<path class="e" d="M926.80,760.70 C926.84,756.87 927.20,753.14 927.87,749.50 C928.53,745.87 929.49,742.34 930.72,738.92 C931.94,735.50 933.44,732.20 935.16,729.03 C936.89,725.85 938.85,722.80 941.01,719.88 C943.17,716.97 945.53,714.19 948.06,711.57 C950.60,708.94 953.30,706.46 956.14,704.14"/><polygon points="957.65,705.91 961.20,699.80 954.62,702.37" fill="#000" stroke="#000" stroke-width="1.1"/>
<path class="e" d="M979.30,870.00 C983.63,848.64 987.21,827.10 990.00,805.50 C992.81,783.77 994.10,761.84 996.10,740.00 C996.93,730.94 997.73,721.87 998.51,712.81"/><polygon points="1003.17,713.08 999.30,699.50 993.84,712.53" fill="none" stroke="#000" stroke-width="1.1"/>
<path class="e" d="M1087.30,760.70 L1028.81,704.62"/><polygon points="1030.43,702.93 1024.00,700.00 1027.20,706.30" fill="#000" stroke="#000" stroke-width="1.1"/>
<path class="e" d="M1118.00,760.70 L1129.24,712.97"/><polygon points="1133.79,714.05 1132.30,700.00 1124.70,711.90" fill="none" stroke="#000" stroke-width="1.1"/>
<path class="e" d="M811.30,870.00 L811.30,815.57"/><polygon points="813.63,815.57 811.30,808.90 808.97,815.57" fill="#000" stroke="#000" stroke-width="1.1"/>
<path class="e" d="M939.60,870.00 L852.08,812.56"/><polygon points="853.35,810.61 846.50,808.90 850.80,814.51" fill="#000" stroke="#000" stroke-width="1.1"/>
</g>
<g id="nodes">
<rect class="b" x="978.10" y="5.90" width="98.70" height="48.00"/><text x="989.83" y="31.00" style="letter-spacing:0.152px" class="i">History Change</text>
<rect class="b" x="975.50" y="115.60" width="104.00" height="48.00"/><text x="987.18" y="141.00" style="letter-spacing:0.185px" class="i">Managed Object</text>
<rect class="b" x="611.30" y="213.90" width="136.30" height="48.00"/><text x="621.37" y="241.00" style="letter-spacing:-0.006px">ServiceConnectionPoint</text>
<rect class="b" x="771.50" y="213.90" width="72.00" height="48.00"/><text x="798.28" y="241.00" style="letter-spacing:0.180px">Kpi</text>
<rect class="b" x="867.80" y="213.90" width="121.80" height="48.00"/><text x="878.27" y="241.00" style="letter-spacing:0.084px">ScheduledDowntime</text>
<rect class="b" x="1064.80" y="213.90" width="80.00" height="48.00"/><text x="1074.13" y="241.00" style="letter-spacing:-0.115px">PolicyResult</text>
<rect class="b" x="1168.50" y="213.90" width="72.30" height="48.00"/><text x="1186.75" y="241.00" style="letter-spacing:-0.106px">Outage</text>
<rect class="b" x="971.50" y="323.40" width="109.00" height="48.00"/><text x="983.17" y="349.00" style="letter-spacing:0.116px" class="i">ConfigurationItem</text>
<rect class="b" x="121.80" y="432.60" width="72.00" height="48.00"/><text x="141.27" y="459.00" style="letter-spacing:-0.096px">Tenant</text>
<rect class="b" x="628.70" y="432.60" width="128.00" height="48.00"/><text x="639.58" y="458.00" style="letter-spacing:0.165px" class="i">InfrastructureElement</text>
<rect class="b" x="1038.00" y="432.60" width="71.90" height="48.00"/><text x="1052.18" y="459.00" style="letter-spacing:0.173px">Location</text>
<rect class="b" x="1292.80" y="432.60" width="71.80" height="48.00"/><text x="1314.23" y="459.00" style="letter-spacing:0.228px">Asset</text>
<rect class="b" x="1402.80" y="432.60" width="105.50" height="48.00"/><text x="1413.83" y="458.00" style="letter-spacing:0.234px" class="i">ItProcessRecord</text>
<rect class="b" x="5.00" y="541.90" width="113.80" height="48.00"/><text x="17.53" y="567.00" style="letter-spacing:0.152px" class="i">ApplicationSystem</text>
<rect class="b" x="412.00" y="541.90" width="108.50" height="48.00"/><text x="423.68" y="567.00" style="letter-spacing:0.215px" class="i">BusinessElement</text>
<rect class="b" x="625.50" y="541.90" width="134.80" height="48.00"/><text x="635.21" y="569.00" style="letter-spacing:0.121px">ClusterResourceConfig</text>
<rect class="b" x="972.50" y="541.90" width="128.00" height="48.00"/><text x="984.28" y="567.00" style="letter-spacing:0.213px" class="i">Application Resource</text>
<rect class="b" x="1175.30" y="541.90" width="77.50" height="48.00"/><text x="1185.46" y="569.00" style="letter-spacing:-0.155px">CiCollection</text>
<rect class="b" x="135.80" y="651.30" width="103.00" height="48.00"/><text x="146.13" y="678.00" style="letter-spacing:0.237px">BusinessActivity</text>
<rect class="b" x="319.30" y="651.30" width="72.20" height="48.00"/><text x="337.95" y="677.00" style="letter-spacing:0.145px" class="i">Service</text>
<rect class="b" x="508.50" y="651.30" width="120.30" height="48.00"/><text x="518.13" y="678.00" style="letter-spacing:0.170px">BusinessApplication</text>
<rect class="b" x="790.50" y="651.30" width="124.30" height="48.00"/><text x="799.88" y="678.00" style="letter-spacing:0.231px">BusinessTransaction</text>
<rect class="b" x="941.30" y="651.30" width="118.40" height="48.00"/><text x="950.88" y="678.00" style="letter-spacing:0.143px">Database Resource</text>
<rect class="b" x="1084.80" y="651.30" width="106.70" height="48.00"/><text x="1093.63" y="678.00" style="letter-spacing:0.303px">RunningSoftware</text>
<rect class="h" x="772.50" y="760.70" width="77.50" height="48.00"/><text x="782.35" y="787.00" style="letter-spacing:-0.108px">Oracle PDB</text>
<rect class="b" x="874.50" y="760.70" width="103.00" height="48.00"/><text x="884.35" y="787.00" style="letter-spacing:0.065px">Oracle Database</text>
<rect class="b" x="1076.50" y="760.70" width="72.30" height="48.00"/><text x="1087.88" y="787.00" style="letter-spacing:0.381px">Database</text>
<rect class="b" x="749.30" y="870.00" width="124.10" height="48.00"/><text x="759.25" y="897.00" style="letter-spacing:0.046px">Oracle Service Name</text>
<rect class="b" x="935.80" y="870.00" width="79.00" height="48.00"/><text x="946.25" y="897.00" style="letter-spacing:-0.096px">Oracle CDB</text>
</g>
<g id="labels">
<text x="988.98" y="87.00" style="letter-spacing:0.020px">History Link</text>
<text x="337.21" y="295.00" style="letter-spacing:0.027px">Connection</text>
<text x="684.46" y="295.00" style="letter-spacing:-0.108px">Composition</text>
<text x="805.25" y="295.00" style="letter-spacing:0.367px">Ownership</text>
<text x="882.46" y="295.00" style="letter-spacing:-0.108px">Composition</text>
<text x="953.21" y="295.00" style="letter-spacing:0.054px">Connection</text>
<text x="1069.23" y="295.00" style="letter-spacing:0.091px">Aggregation</text>
<text x="1149.21" y="295.00" style="letter-spacing:-0.083px">Composition</text>
<text x="1218.71" y="295.00" style="letter-spacing:-0.001px">Connection</text>
<text x="1104.46" y="350.00" style="letter-spacing:-0.049px">ConsumerProvider</text>
<text x="202.21" y="405.00" style="letter-spacing:0.054px">Connection</text>
<text x="1052.13" y="405.00" style="letter-spacing:-0.099px">Membership</text>
<text x="1246.21" y="405.00" style="letter-spacing:0.054px">Connection</text>
<text x="1338.21" y="405.00" style="letter-spacing:0.054px">Connection</text>
<text x="1413.88" y="405.00" style="letter-spacing:-0.043px">Membership</text>
<text x="446.23" y="459.00" style="letter-spacing:0.091px">Aggregation</text>
<text x="965.88" y="459.00" style="letter-spacing:-0.016px">Membership</text>
<text x="1206.21" y="459.00" style="letter-spacing:-0.188px">Containment</text>
<text x="516.68" y="514.00" style="letter-spacing:0.237px">Usage</text>
<text x="691.63" y="514.00" style="letter-spacing:0.136px">Dependency</text>
<text x="1056.68" y="514.00" style="letter-spacing:0.300px">Usage</text>
<text x="220.93" y="569.00" style="letter-spacing:0.237px">Usage</text>
<text x="265.21" y="569.00" style="letter-spacing:-0.163px">Containment</text>
<text x="365.68" y="569.00" style="letter-spacing:0.237px">Usage</text>
<text x="579.43" y="569.00" style="letter-spacing:0.300px">Usage</text>
<text x="782.46" y="569.00" style="letter-spacing:-0.188px">Containment</text>
<text x="861.68" y="569.00" style="letter-spacing:0.237px">Usage</text>
<text x="1060.51" y="623.00" style="letter-spacing:-0.133px">Composition</text>
<text x="937.56" y="733.00" style="letter-spacing:-0.136px">Composition</text>
<text x="1060.21" y="733.00" style="letter-spacing:-0.083px">Composition</text>
<text x="810.48" y="842.00" style="letter-spacing:-0.063px">Realization</text>
<text x="898.61" y="842.00" style="letter-spacing:-0.258px">Containment</text>
</g>
</svg>
</body>
</html>
